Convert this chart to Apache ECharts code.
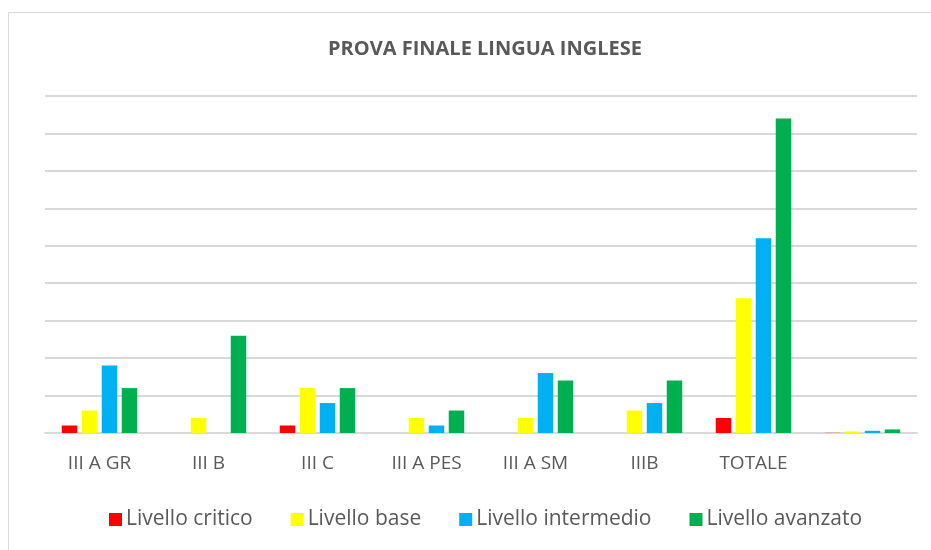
<!DOCTYPE html>
<html><head><meta charset="utf-8">
<script src="https://cdn.jsdelivr.net/npm/echarts@6/dist/echarts.min.js"></script>
<style>html,body{margin:0;padding:0;background:#fff}#c{width:931px;height:550px}</style>
</head><body><div id="c"></div>
<script>
const categories = ['III A GR', 'III B', 'III C', 'III A PES', 'III A SM', 'IIIB', 'TOTALE', ''];
const critico = [1, 0, 1, 0, 0, 0, 2, 0.023];
const base = [3, 2, 6, 2, 2, 3, 18, 0.205];
const intermedio = [9, 0, 4, 1, 8, 4, 26, 0.295];
const avanzato = [6, 13, 6, 3, 7, 7, 42, 0.477];
const seriesNames = ['Livello critico', 'Livello base', 'Livello intermedio', 'Livello avanzato'];
const colors = ['#FF0000', '#FFFF00', '#00B0F0', '#00B050'];
const font = '"Open Sans", Lato, sans-serif';
const chart = echarts.init(document.getElementById('c'));
const data = [critico, base, intermedio, avanzato];
chart.setOption({
  animation: false,
  graphic: [{type: 'rect', shape: {x: 8.5, y: 12.5, width: 940, height: 560}, style: {fill: 'none', stroke: '#d9d9d9', lineWidth: 1}, z: -1}],
  title: {text: 'PROVA FINALE LINGUA INGLESE', left: 323, top: 34,
    textStyle: {fontFamily: font, fontSize: 20, fontWeight: 'bold', color: '#595959'}},
  legend: {bottom: 15, left: 104, itemWidth: 13, itemHeight: 13, itemGap: 38, icon: 'rect',
    textStyle: {fontFamily: font, fontSize: 21, color: '#595959', padding: [0, 0, 0, -1]}, data: seriesNames},
  grid: {left: 45, right: 14, top: 96, bottom: 117},
  xAxis: {type: 'category', data: categories,
    axisLine: {lineStyle: {color: '#d9d9d9', width: 2}}, axisTick: {show: false},
    axisLabel: {fontFamily: font, fontSize: 19, color: '#595959', margin: 21}},
  yAxis: {type: 'value', min: 0, max: 45, interval: 5, axisLabel: {show: false},
    axisLine: {show: false}, axisTick: {show: false},
    splitLine: {lineStyle: {color: '#d9d9d9', width: 2}}},
  series: seriesNames.map((n, i) => ({name: n, type: 'bar', data: data[i], barWidth: 15.5, barGap: '29%',
    itemStyle: {color: colors[i]}}))
});
</script></body></html>
